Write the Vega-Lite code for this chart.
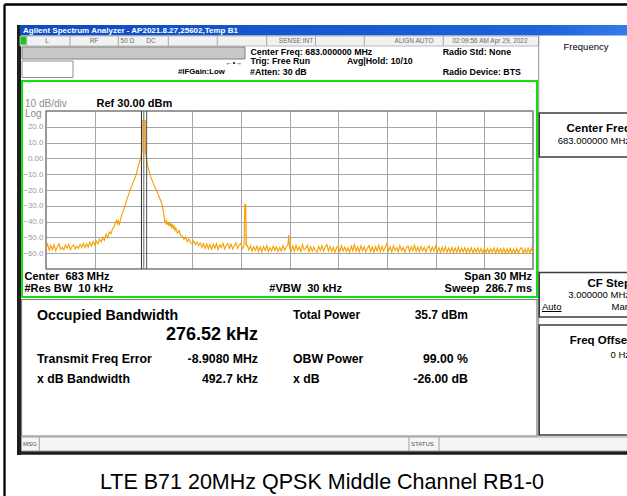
{
"$schema":"https://vega.github.io/schema/vega-lite/v6.json",
"width":487,"height":158,
"autosize":{"type":"none"},
"padding":{"left":46,"top":111,"right":94,"bottom":227},
"background":"white",
"resolve":{"axis":{"x":"independent","y":"independent"}},
"config":{"view":{"stroke":null},"text":{"font":"Liberation Sans","baseline":"middle","align":"left","color":"#000000"}},
"datasets":{
"trace":[
{"f":668.0,"p":-57.4},{"f":668.1,"p":-54.3},{"f":668.2,"p":-58.2},{"f":668.3,"p":-55.0},{"f":668.4,"p":-57.8},{"f":668.5,"p":-54.6},{"f":668.6,"p":-58.5},{"f":668.7,"p":-55.9},{"f":668.8,"p":-54.0},{"f":668.9,"p":-57.6},
{"f":669.0,"p":-56.4},{"f":669.1,"p":-58.0},{"f":669.2,"p":-54.7},{"f":669.3,"p":-56.9},{"f":669.4,"p":-54.4},{"f":669.5,"p":-57.9},{"f":669.6,"p":-55.8},{"f":669.7,"p":-54.9},{"f":669.8,"p":-57.3},{"f":669.9,"p":-55.6},
{"f":670.0,"p":-57.0},{"f":670.1,"p":-54.5},{"f":670.2,"p":-56.4},{"f":670.3,"p":-53.6},{"f":670.4,"p":-56.5},{"f":670.5,"p":-53.9},{"f":670.6,"p":-56.2},{"f":670.7,"p":-53.1},{"f":670.8,"p":-55.5},{"f":670.9,"p":-52.6},
{"f":671.0,"p":-54.6},{"f":671.1,"p":-52.3},{"f":671.2,"p":-54.2},{"f":671.3,"p":-51.2},{"f":671.4,"p":-52.9},{"f":671.5,"p":-50.0},{"f":671.6,"p":-51.8},{"f":671.7,"p":-48.0},{"f":671.8,"p":-50.1},{"f":671.9,"p":-46.5},
{"f":672.0,"p":-47.8},{"f":672.1,"p":-44.6},{"f":672.2,"p":-43.1},{"f":672.25,"p":-41.0},{"f":672.3,"p":-40.2},{"f":672.35,"p":-39.2},{"f":672.4,"p":-41.2},{"f":672.45,"p":-39.6},{"f":672.5,"p":-41.9},{"f":672.55,"p":-40.6},
{"f":672.6,"p":-38.2},{"f":672.65,"p":-36.5},{"f":672.7,"p":-34.8},{"f":672.75,"p":-33.6},{"f":672.8,"p":-31.9},{"f":672.85,"p":-30.2},{"f":672.9,"p":-28.8},{"f":672.95,"p":-27.1},{"f":673.0,"p":-25.4},{"f":673.05,"p":-24.1},
{"f":673.1,"p":-22.6},{"f":673.15,"p":-21.0},{"f":673.2,"p":-19.5},{"f":673.25,"p":-18.2},{"f":673.3,"p":-16.9},{"f":673.35,"p":-15.6},{"f":673.4,"p":-14.3},{"f":673.45,"p":-13.2},{"f":673.5,"p":-11.8},{"f":673.55,"p":-10.6},
{"f":673.6,"p":-8.1},{"f":673.65,"p":-6.2},{"f":673.7,"p":-4.4},{"f":673.75,"p":-2.5},{"f":673.8,"p":-1.0},{"f":673.85,"p":0.6},{"f":673.88,"p":2.8},{"f":673.91,"p":5.0},{"f":673.93,"p":23.7},{"f":673.96,"p":23.9},
{"f":674.0,"p":23.8},{"f":674.04,"p":23.9},{"f":674.08,"p":23.7},{"f":674.11,"p":23.8},{"f":674.13,"p":4.0},{"f":674.16,"p":1.2},{"f":674.2,"p":-0.5},{"f":674.25,"p":-3.8},{"f":674.3,"p":-6.2},{"f":674.35,"p":-8.4},
{"f":674.4,"p":-10.1},{"f":674.45,"p":-11.6},{"f":674.5,"p":-13.0},{"f":674.55,"p":-14.3},{"f":674.6,"p":-15.5},{"f":674.65,"p":-16.8},{"f":674.7,"p":-18.0},{"f":674.75,"p":-19.1},{"f":674.8,"p":-20.2},{"f":674.85,"p":-21.3},
{"f":674.9,"p":-22.4},{"f":674.95,"p":-23.8},{"f":675.0,"p":-25.1},{"f":675.05,"p":-26.3},{"f":675.1,"p":-27.6},{"f":675.15,"p":-29.4},{"f":675.2,"p":-32.0},{"f":675.25,"p":-35.3},{"f":675.3,"p":-38.6},{"f":675.35,"p":-40.9},
{"f":675.4,"p":-39.4},{"f":675.45,"p":-42.0},{"f":675.5,"p":-40.0},{"f":675.55,"p":-42.6},{"f":675.6,"p":-40.7},{"f":675.65,"p":-43.1},{"f":675.7,"p":-41.1},{"f":675.75,"p":-43.4},{"f":675.8,"p":-41.7},{"f":675.85,"p":-44.7},
{"f":675.9,"p":-42.6},{"f":675.95,"p":-45.6},{"f":676.0,"p":-44.2},{"f":676.1,"p":-47.3},{"f":676.2,"p":-45.7},{"f":676.3,"p":-48.8},{"f":676.4,"p":-49.2},{"f":676.5,"p":-51.2},{"f":676.6,"p":-49.7},{"f":676.7,"p":-52.7},
{"f":676.8,"p":-51.0},{"f":676.9,"p":-53.3},{"f":677.0,"p":-54.0},{"f":677.1,"p":-52.3},{"f":677.2,"p":-54.5},{"f":677.3,"p":-52.9},{"f":677.4,"p":-55.2},{"f":677.5,"p":-53.5},{"f":677.6,"p":-56.4},{"f":677.7,"p":-53.8},
{"f":677.8,"p":-57.0},{"f":677.9,"p":-54.1},{"f":678.0,"p":-57.2},{"f":678.1,"p":-54.3},{"f":678.2,"p":-57.6},{"f":678.3,"p":-54.2},{"f":678.4,"p":-56.9},{"f":678.5,"p":-53.9},{"f":678.6,"p":-57.8},{"f":678.7,"p":-54.6},
{"f":678.8,"p":-56.5},{"f":678.9,"p":-53.6},{"f":679.0,"p":-57.3},{"f":679.1,"p":-55.0},{"f":679.2,"p":-53.9},{"f":679.3,"p":-56.9},{"f":679.4,"p":-54.3},{"f":679.5,"p":-57.4},{"f":679.6,"p":-55.1},{"f":679.7,"p":-53.5},
{"f":679.8,"p":-57.0},{"f":679.9,"p":-54.8},{"f":680.0,"p":-53.9},{"f":680.1,"p":-57.1},{"f":680.2,"p":-55.3},{"f":680.25,"p":-29.0},{"f":680.3,"p":-29.3},{"f":680.35,"p":-55.1},{"f":680.4,"p":-55.0},{"f":680.5,"p":-57.9},
{"f":680.6,"p":-55.3},{"f":680.7,"p":-58.6},{"f":680.8,"p":-55.9},{"f":680.9,"p":-58.2},{"f":681.0,"p":-55.6},{"f":681.1,"p":-58.8},{"f":681.2,"p":-56.0},{"f":681.3,"p":-59.1},{"f":681.4,"p":-55.7},{"f":681.5,"p":-58.4},
{"f":681.6,"p":-55.2},{"f":681.7,"p":-58.9},{"f":681.8,"p":-56.4},{"f":681.9,"p":-58.6},{"f":682.0,"p":-55.5},{"f":682.1,"p":-58.3},{"f":682.2,"p":-55.9},{"f":682.3,"p":-59.0},{"f":682.4,"p":-56.3},{"f":682.5,"p":-58.7},
{"f":682.6,"p":-55.1},{"f":682.7,"p":-58.2},{"f":682.8,"p":-56.0},{"f":682.9,"p":-54.8},{"f":682.95,"p":-48.5},{"f":683.0,"p":-56.6},{"f":683.1,"p":-58.7},{"f":683.2,"p":-55.4},{"f":683.3,"p":-58.9},{"f":683.4,"p":-54.9},
{"f":683.5,"p":-58.3},{"f":683.6,"p":-56.0},{"f":683.7,"p":-59.0},{"f":683.8,"p":-54.6},{"f":683.9,"p":-58.1},{"f":684.0,"p":-56.8},{"f":684.1,"p":-55.0},{"f":684.2,"p":-59.2},{"f":684.3,"p":-55.8},{"f":684.4,"p":-58.9},
{"f":684.5,"p":-56.2},{"f":684.6,"p":-58.5},{"f":684.7,"p":-59.3},{"f":684.8,"p":-55.6},{"f":684.9,"p":-58.4},{"f":685.0,"p":-55.2},{"f":685.1,"p":-58.8},{"f":685.2,"p":-56.0},{"f":685.3,"p":-54.5},{"f":685.4,"p":-58.6},
{"f":685.5,"p":-55.7},{"f":685.6,"p":-59.0},{"f":685.7,"p":-56.3},{"f":685.8,"p":-59.4},{"f":685.9,"p":-56.6},{"f":686.0,"p":-55.4},{"f":686.1,"p":-59.1},{"f":686.2,"p":-55.3},{"f":686.3,"p":-58.7},{"f":686.4,"p":-56.1},
{"f":686.5,"p":-58.9},{"f":686.6,"p":-56.5},{"f":686.7,"p":-59.5},{"f":686.8,"p":-55.5},{"f":686.9,"p":-58.6},{"f":687.0,"p":-54.2},{"f":687.1,"p":-58.8},{"f":687.2,"p":-56.0},{"f":687.3,"p":-59.1},{"f":687.4,"p":-55.3},
{"f":687.5,"p":-58.4},{"f":687.6,"p":-55.9},{"f":687.7,"p":-59.2},{"f":687.8,"p":-56.7},{"f":687.9,"p":-55.2},{"f":688.0,"p":-58.9},{"f":688.1,"p":-56.1},{"f":688.2,"p":-59.3},{"f":688.3,"p":-55.9},{"f":688.4,"p":-58.6},
{"f":688.5,"p":-55.0},{"f":688.6,"p":-59.0},{"f":688.7,"p":-55.6},{"f":688.8,"p":-58.7},{"f":688.9,"p":-56.2},{"f":689.0,"p":-54.0},{"f":689.1,"p":-58.5},{"f":689.2,"p":-55.9},{"f":689.3,"p":-59.2},{"f":689.4,"p":-55.4},
{"f":689.5,"p":-58.3},{"f":689.6,"p":-56.4},{"f":689.7,"p":-58.9},{"f":689.8,"p":-55.1},{"f":689.9,"p":-58.6},{"f":690.0,"p":-56.3},{"f":690.1,"p":-59.4},{"f":690.2,"p":-56.5},{"f":690.3,"p":-55.3},{"f":690.4,"p":-59.1},
{"f":690.5,"p":-55.8},{"f":690.6,"p":-58.5},{"f":690.7,"p":-55.0},{"f":690.8,"p":-58.9},{"f":690.9,"p":-56.0},{"f":691.0,"p":-59.2},{"f":691.1,"p":-55.7},{"f":691.2,"p":-58.6},{"f":691.3,"p":-56.2},{"f":691.4,"p":-59.3},
{"f":691.5,"p":-56.6},{"f":691.6,"p":-55.4},{"f":691.7,"p":-59.0},{"f":691.8,"p":-56.0},{"f":691.9,"p":-58.8},{"f":692.0,"p":-55.4},{"f":692.1,"p":-59.1},{"f":692.2,"p":-56.5},{"f":692.3,"p":-59.6},{"f":692.4,"p":-56.3},
{"f":692.5,"p":-59.2},{"f":692.6,"p":-55.9},{"f":692.7,"p":-59.5},{"f":692.8,"p":-56.6},{"f":692.9,"p":-59.3},{"f":693.0,"p":-56.4},{"f":693.1,"p":-59.7},{"f":693.2,"p":-56.7},{"f":693.3,"p":-59.4},{"f":693.4,"p":-56.0},
{"f":693.5,"p":-59.6},{"f":693.6,"p":-56.9},{"f":693.7,"p":-59.2},{"f":693.8,"p":-56.5},{"f":693.9,"p":-59.8},{"f":694.0,"p":-56.9},{"f":694.1,"p":-59.5},{"f":694.2,"p":-56.6},{"f":694.3,"p":-59.9},{"f":694.4,"p":-57.0},
{"f":694.5,"p":-59.4},{"f":694.6,"p":-56.7},{"f":694.7,"p":-59.7},{"f":694.8,"p":-57.1},{"f":694.9,"p":-60.0},{"f":695.0,"p":-56.8},{"f":695.1,"p":-59.6},{"f":695.2,"p":-57.0},{"f":695.3,"p":-59.9},{"f":695.4,"p":-57.1},
{"f":695.5,"p":-59.5},{"f":695.6,"p":-56.6},{"f":695.7,"p":-60.1},{"f":695.8,"p":-56.9},{"f":695.9,"p":-59.7},{"f":696.0,"p":-57.1},{"f":696.1,"p":-59.9},{"f":696.2,"p":-56.8},{"f":696.3,"p":-60.2},{"f":696.4,"p":-57.2},
{"f":696.5,"p":-59.8},{"f":696.6,"p":-56.9},{"f":696.7,"p":-60.1},{"f":696.8,"p":-57.3},{"f":696.9,"p":-59.9},{"f":697.0,"p":-57.0},{"f":697.1,"p":-60.2},{"f":697.2,"p":-57.4},{"f":697.3,"p":-56.4},{"f":697.4,"p":-60.0},
{"f":697.5,"p":-57.2},{"f":697.6,"p":-60.1},{"f":697.7,"p":-56.8},{"f":697.8,"p":-59.8},{"f":697.9,"p":-57.1},{"f":698.0,"p":-59.7}
],
"fill":[
{"g":"carrier","f":673.92,"top":23.7,"base":3},{"g":"carrier","f":674.12,"top":23.7,"base":3},
{"g":"spur","f":680.24,"top":-29.5,"base":-55},{"g":"spur","f":680.31,"top":-29.5,"base":-55}
]
},
"layer":[
{"data":{"values":[{}]},"mark":{"type":"rule","color":"#000000","strokeWidth":2.3},"encoding":{"x":{"datum":665.444,"axis":null},"y":{"datum":97.405,"axis":null},"y2":{"datum":-220}}},
{"data":{"values":[{}]},"mark":{"type":"rule","color":"#000000","strokeWidth":2.3},"encoding":{"y":{"datum":97.405,"axis":null},"x":{"datum":665.444,"axis":null},"x2":{"datum":706}}},
{"data":{"values":[{}]},"mark":{"type":"rule","color":"#1e1e1e","strokeWidth":4},"encoding":{"x":{"datum":666.337,"axis":null},"y":{"datum":84.43,"axis":null},"y2":{"datum":-187.722}}},
{"data":{"values":[{}]},"mark":{"type":"rule","color":"#1e1e1e","strokeWidth":4},"encoding":{"y":{"datum":-186.329,"axis":null},"x":{"datum":666.214,"axis":null},"x2":{"datum":706}}},
{"data":{"values":[{}]},"mark":{"type":"rect","color":{"gradient":"linear","x1":0,"y1":0,"x2":1,"y2":0,"stops":[{"offset":0,"color":"#0e4cc0"},{"offset":0.8,"color":"#1c62d8"},{"offset":1,"color":"#3a88ee"}]}},"encoding":{"x":{"datum":666.398,"axis":null},"x2":{"datum":706},"y":{"datum":84.43,"axis":null},"y2":{"datum":77.785}}},
{"data":{"values":[{}]},"mark":{"type":"text","text":"Agilent Spectrum Analyzer - AP2021.8.27,25602,Temp B1","fontSize":8,"fontWeight":"bold","color":"#ffffff"},"encoding":{"x":{"datum":666.583,"axis":null},"y":{"datum":80.949,"axis":null}}},
{"data":{"values":[{}]},"mark":{"type":"rect","fill":"#f2f2f2","stroke":"#a8a8a8","strokeWidth":0.8},"encoding":{"x":{"datum":666.398,"axis":null},"x2":{"datum":698.351},"y":{"datum":77.468,"axis":null},"y2":{"datum":71.139}}},
{"data":{"values":[{}]},"mark":{"type":"rect","fill":"#18c818"},"encoding":{"x":{"datum":666.429,"axis":null},"x2":{"datum":666.78},"y":{"datum":77.152,"axis":null},"y2":{"datum":72.0}}},
{"data":{"values":[{}]},"mark":{"type":"rule","color":"#a8a8a8","strokeWidth":1},"encoding":{"x":{"datum":666.811,"axis":null},"y":{"datum":77.468,"axis":null},"y2":{"datum":71.139}}},
{"data":{"values":[{}]},"mark":{"type":"rule","color":"#a8a8a8","strokeWidth":1},"encoding":{"x":{"datum":669.478,"axis":null},"y":{"datum":77.468,"axis":null},"y2":{"datum":71.139}}},
{"data":{"values":[{}]},"mark":{"type":"rule","color":"#a8a8a8","strokeWidth":1},"encoding":{"x":{"datum":672.454,"axis":null},"y":{"datum":77.468,"axis":null},"y2":{"datum":71.139}}},
{"data":{"values":[{}]},"mark":{"type":"rule","color":"#a8a8a8","strokeWidth":1},"encoding":{"x":{"datum":675.534,"axis":null},"y":{"datum":77.468,"axis":null},"y2":{"datum":71.139}}},
{"data":{"values":[{}]},"mark":{"type":"rule","color":"#a8a8a8","strokeWidth":1},"encoding":{"x":{"datum":678.552,"axis":null},"y":{"datum":77.468,"axis":null},"y2":{"datum":71.139}}},
{"data":{"values":[{}]},"mark":{"type":"rule","color":"#a8a8a8","strokeWidth":1},"encoding":{"x":{"datum":681.596,"axis":null},"y":{"datum":77.468,"axis":null},"y2":{"datum":71.139}}},
{"data":{"values":[{}]},"mark":{"type":"rule","color":"#a8a8a8","strokeWidth":1},"encoding":{"x":{"datum":684.602,"axis":null},"y":{"datum":77.468,"axis":null},"y2":{"datum":71.139}}},
{"data":{"values":[{}]},"mark":{"type":"rule","color":"#a8a8a8","strokeWidth":1},"encoding":{"x":{"datum":687.608,"axis":null},"y":{"datum":77.468,"axis":null},"y2":{"datum":71.139}}},
{"data":{"values":[{}]},"mark":{"type":"rule","color":"#a8a8a8","strokeWidth":1},"encoding":{"x":{"datum":692.474,"axis":null},"y":{"datum":77.468,"axis":null},"y2":{"datum":71.139}}},
{"data":{"values":[{}]},"mark":{"type":"text","text":"L","fontSize":6.5,"color":"#6a6a6a","align":"center"},"encoding":{"x":{"datum":668.062,"axis":null},"y":{"datum":74.304,"axis":null}}},
{"data":{"values":[{}]},"mark":{"type":"text","text":"RF","fontSize":6.5,"color":"#6a6a6a","align":"center"},"encoding":{"x":{"datum":670.957,"axis":null},"y":{"datum":74.304,"axis":null}}},
{"data":{"values":[{}]},"mark":{"type":"text","text":"50 Ω","fontSize":6.5,"color":"#6a6a6a","align":"center"},"encoding":{"x":{"datum":673.021,"axis":null},"y":{"datum":74.304,"axis":null}}},
{"data":{"values":[{}]},"mark":{"type":"text","text":"DC","fontSize":6.5,"color":"#6a6a6a","align":"center"},"encoding":{"x":{"datum":674.468,"axis":null},"y":{"datum":74.304,"axis":null}}},
{"data":{"values":[{}]},"mark":{"type":"text","text":"SENSE:INT","fontSize":6.5,"color":"#6a6a6a","align":"center"},"encoding":{"x":{"datum":683.4,"axis":null},"y":{"datum":74.304,"axis":null}}},
{"data":{"values":[{}]},"mark":{"type":"text","text":"ALIGN AUTO","fontSize":6.5,"color":"#6a6a6a","align":"center"},"encoding":{"x":{"datum":690.669,"axis":null},"y":{"datum":74.304,"axis":null}}},
{"data":{"values":[{}]},"mark":{"type":"text","text":"02:09:56 AM Apr 29, 2022","fontSize":6.5,"color":"#6a6a6a","align":"center"},"encoding":{"x":{"datum":695.351,"axis":null},"y":{"datum":74.304,"axis":null}}},
{"data":{"values":[{}]},"mark":{"type":"rect","fill":"#c8c8c8","stroke":"#808080","strokeWidth":1},"encoding":{"x":{"datum":666.522,"axis":null},"x2":{"datum":680.259},"y":{"datum":70.506,"axis":null},"y2":{"datum":62.911}}},
{"data":{"values":[{}]},"mark":{"type":"rect","fill":"#ffffff","stroke":"#909090","strokeWidth":1},"encoding":{"x":{"datum":666.522,"axis":null},"x2":{"datum":669.663},"y":{"datum":61.646,"axis":null},"y2":{"datum":51.203}}},
{"data":{"values":[{}]},"mark":{"type":"text","text":"←•→","fontSize":7,"align":"center"},"encoding":{"x":{"datum":679.581,"axis":null},"y":{"datum":60.57,"axis":null}}},
{"data":{"values":[{}]},"mark":{"type":"text","text":"Center Freq: 683.000000 MHz","fontSize":8.8,"fontWeight":"bold"},"encoding":{"x":{"datum":680.597,"axis":null},"y":{"datum":67.658,"axis":null}}},
{"data":{"values":[{}]},"mark":{"type":"text","text":"Trig: Free Run","fontSize":8.8,"fontWeight":"bold"},"encoding":{"x":{"datum":680.597,"axis":null},"y":{"datum":61.646,"axis":null}}},
{"data":{"values":[{}]},"mark":{"type":"text","text":"#Atten: 30 dB","fontSize":8.8,"fontWeight":"bold"},"encoding":{"x":{"datum":680.567,"axis":null},"y":{"datum":55.0,"axis":null}}},
{"data":{"values":[{}]},"mark":{"type":"text","text":"Avg|Hold: 10/10","fontSize":8.8,"fontWeight":"bold"},"encoding":{"x":{"datum":686.542,"axis":null},"y":{"datum":61.646,"axis":null}}},
{"data":{"values":[{}]},"mark":{"type":"text","text":"Radio Std: None","fontSize":8.8,"fontWeight":"bold"},"encoding":{"x":{"datum":692.437,"axis":null},"y":{"datum":67.658,"axis":null}}},
{"data":{"values":[{}]},"mark":{"type":"text","text":"Radio Device: BTS","fontSize":8.8,"fontWeight":"bold"},"encoding":{"x":{"datum":692.437,"axis":null},"y":{"datum":55.0,"axis":null}}},
{"data":{"values":[{}]},"mark":{"type":"text","text":"#IFGain:Low","fontSize":7.8,"fontWeight":"bold"},"encoding":{"x":{"datum":676.131,"axis":null},"y":{"datum":54.684,"axis":null}}},
{"data":{"values":[{}]},"mark":{"type":"rule","color":"#909090","strokeWidth":1},"encoding":{"x":{"datum":698.351,"axis":null},"y":{"datum":77.468,"axis":null},"y2":{"datum":-175.696}}},
{"data":{"values":[{}]},"mark":{"type":"text","text":"Frequency","fontSize":9.5,"align":"center"},"encoding":{"x":{"datum":701.265,"axis":null},"y":{"datum":70.19,"axis":null}}},
{"data":{"values":[{}]},"mark":{"type":"rect","fill":"transparent","stroke":"#3c3c3c","strokeWidth":1.6},"encoding":{"x":{"datum":698.382,"axis":null},"x2":{"datum":706},"y":{"datum":28.734,"axis":null},"y2":{"datum":0.886}}},
{"data":{"values":[{}]},"mark":{"type":"rect","fill":"transparent","stroke":"#3c3c3c","strokeWidth":1.6},"encoding":{"x":{"datum":698.382,"axis":null},"x2":{"datum":706},"y":{"datum":-72.215,"axis":null},"y2":{"datum":-100.38}}},
{"data":{"values":[{}]},"mark":{"type":"rect","fill":"transparent","stroke":"#3c3c3c","strokeWidth":1.6},"encoding":{"x":{"datum":698.382,"axis":null},"x2":{"datum":706},"y":{"datum":-105.443,"axis":null},"y2":{"datum":-175.063}}},
{"data":{"values":[{}]},"mark":{"type":"text","text":"Center Freq","fontSize":11.5,"fontWeight":"bold","align":"right"},"encoding":{"x":{"datum":704.037,"axis":null},"y":{"datum":18.924,"axis":null}}},
{"data":{"values":[{}]},"mark":{"type":"text","text":"683.000000 MHz","fontSize":9.5,"align":"right"},"encoding":{"x":{"datum":703.976,"axis":null},"y":{"datum":11.013,"axis":null}}},
{"data":{"values":[{}]},"mark":{"type":"text","text":"CF Step","fontSize":11.5,"fontWeight":"bold","align":"right"},"encoding":{"x":{"datum":704.037,"axis":null},"y":{"datum":-79.494,"axis":null}}},
{"data":{"values":[{}]},"mark":{"type":"text","text":"3.000000 MHz","fontSize":9.5,"align":"right"},"encoding":{"x":{"datum":703.976,"axis":null},"y":{"datum":-86.772,"axis":null}}},
{"data":{"values":[{}]},"mark":{"type":"text","text":"Auto","fontSize":9.5},"encoding":{"x":{"datum":698.554,"axis":null},"y":{"datum":-94.051,"axis":null}}},
{"data":{"values":[{}]},"mark":{"type":"rule","color":"#000000","strokeWidth":1},"encoding":{"y":{"datum":-96.899,"axis":null},"x":{"datum":698.554,"axis":null},"x2":{"datum":699.756}}},
{"data":{"values":[{}]},"mark":{"type":"text","text":"Man","fontSize":9.5,"align":"right"},"encoding":{"x":{"datum":703.976,"axis":null},"y":{"datum":-94.051,"axis":null}}},
{"data":{"values":[{}]},"mark":{"type":"text","text":"Freq Offset","fontSize":11.5,"fontWeight":"bold","align":"right"},"encoding":{"x":{"datum":704.037,"axis":null},"y":{"datum":-115.886,"axis":null}}},
{"data":{"values":[{}]},"mark":{"type":"text","text":"0 Hz","fontSize":9.5,"align":"right"},"encoding":{"x":{"datum":703.976,"axis":null},"y":{"datum":-124.43,"axis":null}}},
{"data":{"values":[{}]},"mark":{"type":"rect","fill":"transparent","stroke":"#10e010","strokeWidth":2},"encoding":{"x":{"datum":666.522,"axis":null},"x2":{"datum":698.247},"y":{"datum":48.987,"axis":null},"y2":{"datum":-87.722}}},
{"data":{"values":[{}]},"mark":{"type":"rect","fill":"transparent","stroke":"#7a7a7a","strokeWidth":1.5},"encoding":{"x":{"datum":668,"axis":null},"x2":{"datum":698},"y":{"datum":-70,"axis":null},"y2":{"datum":30}}},
{"data":{"name":"fill"},"mark":{"type":"area","color":"#fcd08a"},"encoding":{"x":{"field":"f","type":"quantitative","axis":null},"y":{"field":"top","type":"quantitative","axis":null},"y2":{"field":"base"},"detail":{"field":"g"}}},
{"data":{"name":"trace"},"mark":{"type":"line","color":"#f5a000","strokeWidth":1.1},
 "encoding":{
  "x":{"field":"f","type":"quantitative","scale":{"domain":[668,698],"nice":false,"zero":false},"axis":{"values":[671,674,677,680,683,686,689,692,695],"grid":true,"gridColor":"#a6a6a6","gridWidth":1,"labels":false,"ticks":false,"domain":false,"title":null}},
  "y":{"field":"p","type":"quantitative","scale":{"domain":[-70,30],"nice":false,"zero":false},"axis":{"values":[20,10,0,-10,-20,-30,-40,-50,-60],"grid":true,"gridColor":"#a6a6a6","gridWidth":1,"labelExpr":"datum.value == 0 ? '0.00' : format(datum.value, '.1f')","labelColor":"#9a9a9a","labelFontSize":8,"labelFont":"Liberation Sans","labelPadding":3,"ticks":false,"domain":false,"title":null}}}},
{"data":{"values":[{}]},"mark":{"type":"rule","color":"#303030","strokeWidth":1},"encoding":{"x":{"datum":673.88,"axis":null},"y":{"datum":-70,"axis":null},"y2":{"datum":30}}},
{"data":{"values":[{}]},"mark":{"type":"rule","color":"#8a8a8a","strokeWidth":1},"encoding":{"x":{"datum":674.03,"axis":null},"y":{"datum":-70,"axis":null},"y2":{"datum":30}}},
{"data":{"values":[{}]},"mark":{"type":"rule","color":"#505050","strokeWidth":1},"encoding":{"x":{"datum":674.2,"axis":null},"y":{"datum":-70,"axis":null},"y2":{"datum":30}}},
{"data":{"values":[{}]},"mark":{"type":"text","text":"10 dB/div","fontSize":10,"color":"#8c8c8c"},"encoding":{"x":{"datum":666.706,"axis":null},"y":{"datum":34.114,"axis":null}}},
{"data":{"values":[{}]},"mark":{"type":"text","text":"Ref 30.00 dBm","fontSize":11,"fontWeight":"bold"},"encoding":{"x":{"datum":671.111,"axis":null},"y":{"datum":34.114,"axis":null}}},
{"data":{"values":[{}]},"mark":{"type":"text","text":"Log","fontSize":10,"color":"#8c8c8c"},"encoding":{"x":{"datum":666.706,"axis":null},"y":{"datum":27.785,"axis":null}}},
{"data":{"values":[{}]},"mark":{"type":"text","text":"Center\u00a0\u00a0683 MHz","fontSize":11,"fontWeight":"bold"},"encoding":{"x":{"datum":666.676,"axis":null},"y":{"datum":-74.873,"axis":null}}},
{"data":{"values":[{}]},"mark":{"type":"text","text":"#Res BW\u00a0\u00a010 kHz","fontSize":11,"fontWeight":"bold"},"encoding":{"x":{"datum":666.676,"axis":null},"y":{"datum":-82.848,"axis":null}}},
{"data":{"values":[{}]},"mark":{"type":"text","text":"#VBW\u00a0\u00a030 kHz","fontSize":11,"fontWeight":"bold"},"encoding":{"x":{"datum":681.756,"axis":null},"y":{"datum":-82.848,"axis":null}}},
{"data":{"values":[{}]},"mark":{"type":"text","text":"Span 30 MHz","fontSize":11,"fontWeight":"bold","align":"right"},"encoding":{"x":{"datum":697.939,"axis":null},"y":{"datum":-74.873,"axis":null}}},
{"data":{"values":[{}]},"mark":{"type":"text","text":"Sweep\u00a0\u00a0286.7 ms","fontSize":11,"fontWeight":"bold","align":"right"},"encoding":{"x":{"datum":697.939,"axis":null},"y":{"datum":-82.848,"axis":null}}},
{"data":{"values":[{}]},"mark":{"type":"rect","fill":"transparent","stroke":"#7a7a7a","strokeWidth":1.2},"encoding":{"x":{"datum":666.491,"axis":null},"x2":{"datum":698.247},"y":{"datum":-89.304,"axis":null},"y2":{"datum":-175.696}}},
{"data":{"values":[{}]},"mark":{"type":"text","text":"Occupied Bandwidth","fontSize":14.2,"fontWeight":"bold"},"encoding":{"x":{"datum":667.446,"axis":null},"y":{"datum":-99.747,"axis":null}}},
{"data":{"values":[{}]},"mark":{"type":"text","text":"276.52 kHz","fontSize":18,"fontWeight":"bold","align":"right"},"encoding":{"x":{"datum":681.06,"axis":null},"y":{"datum":-111.772,"axis":null}}},
{"data":{"values":[{}]},"mark":{"type":"text","text":"Total Power","fontSize":12,"fontWeight":"bold"},"encoding":{"x":{"datum":683.216,"axis":null},"y":{"datum":-99.114,"axis":null}}},
{"data":{"values":[{}]},"mark":{"type":"text","text":"35.7 dBm","fontSize":12,"fontWeight":"bold","align":"right"},"encoding":{"x":{"datum":693.996,"axis":null},"y":{"datum":-99.114,"axis":null}}},
{"data":{"values":[{}]},"mark":{"type":"text","text":"Transmit Freq Error","fontSize":12.3,"fontWeight":"bold"},"encoding":{"x":{"datum":667.446,"axis":null},"y":{"datum":-126.962,"axis":null}}},
{"data":{"values":[{}]},"mark":{"type":"text","text":"-8.9080 MHz","fontSize":12.3,"fontWeight":"bold","align":"right"},"encoding":{"x":{"datum":681.06,"axis":null},"y":{"datum":-126.962,"axis":null}}},
{"data":{"values":[{}]},"mark":{"type":"text","text":"OBW Power","fontSize":12.3,"fontWeight":"bold"},"encoding":{"x":{"datum":683.216,"axis":null},"y":{"datum":-126.962,"axis":null}}},
{"data":{"values":[{}]},"mark":{"type":"text","text":"99.00 %","fontSize":12.3,"fontWeight":"bold","align":"right"},"encoding":{"x":{"datum":693.996,"axis":null},"y":{"datum":-126.962,"axis":null}}},
{"data":{"values":[{}]},"mark":{"type":"text","text":"x dB Bandwidth","fontSize":12.3,"fontWeight":"bold"},"encoding":{"x":{"datum":667.446,"axis":null},"y":{"datum":-139.304,"axis":null}}},
{"data":{"values":[{}]},"mark":{"type":"text","text":"492.7 kHz","fontSize":12.3,"fontWeight":"bold","align":"right"},"encoding":{"x":{"datum":681.06,"axis":null},"y":{"datum":-139.304,"axis":null}}},
{"data":{"values":[{}]},"mark":{"type":"text","text":"x dB","fontSize":12.3,"fontWeight":"bold"},"encoding":{"x":{"datum":683.216,"axis":null},"y":{"datum":-139.304,"axis":null}}},
{"data":{"values":[{}]},"mark":{"type":"text","text":"-26.00 dB","fontSize":12.3,"fontWeight":"bold","align":"right"},"encoding":{"x":{"datum":693.996,"axis":null},"y":{"datum":-139.304,"axis":null}}},
{"data":{"values":[{}]},"mark":{"type":"rect","fill":"#f5f5f5","stroke":"#a0a0a0","strokeWidth":1},"encoding":{"x":{"datum":666.491,"axis":null},"x2":{"datum":706},"y":{"datum":-176.329,"axis":null},"y2":{"datum":-185.19}}},
{"data":{"values":[{}]},"mark":{"type":"rule","color":"#a0a0a0","strokeWidth":1},"encoding":{"x":{"datum":667.587,"axis":null},"y":{"datum":-176.329,"axis":null},"y2":{"datum":-185.19}}},
{"data":{"values":[{}]},"mark":{"type":"rule","color":"#a0a0a0","strokeWidth":1},"encoding":{"x":{"datum":690.361,"axis":null},"y":{"datum":-176.329,"axis":null},"y2":{"datum":-185.19}}},
{"data":{"values":[{}]},"mark":{"type":"rule","color":"#a0a0a0","strokeWidth":1},"encoding":{"x":{"datum":692.209,"axis":null},"y":{"datum":-176.329,"axis":null},"y2":{"datum":-185.19}}},
{"data":{"values":[{}]},"mark":{"type":"text","text":"MSG","fontSize":6,"color":"#505050"},"encoding":{"x":{"datum":666.583,"axis":null},"y":{"datum":-180.759,"axis":null}}},
{"data":{"values":[{}]},"mark":{"type":"text","text":"STATUS","fontSize":6,"color":"#505050"},"encoding":{"x":{"datum":690.485,"axis":null},"y":{"datum":-180.759,"axis":null}}},
{"data":{"values":[{}]},"mark":{"type":"text","text":"LTE B71 20MHz QPSK Middle Channel RB1-0","fontSize":21.5,"align":"center"},"encoding":{"x":{"datum":685.002,"axis":null},"y":{"datum":-205.6,"axis":null}}}
]
}
